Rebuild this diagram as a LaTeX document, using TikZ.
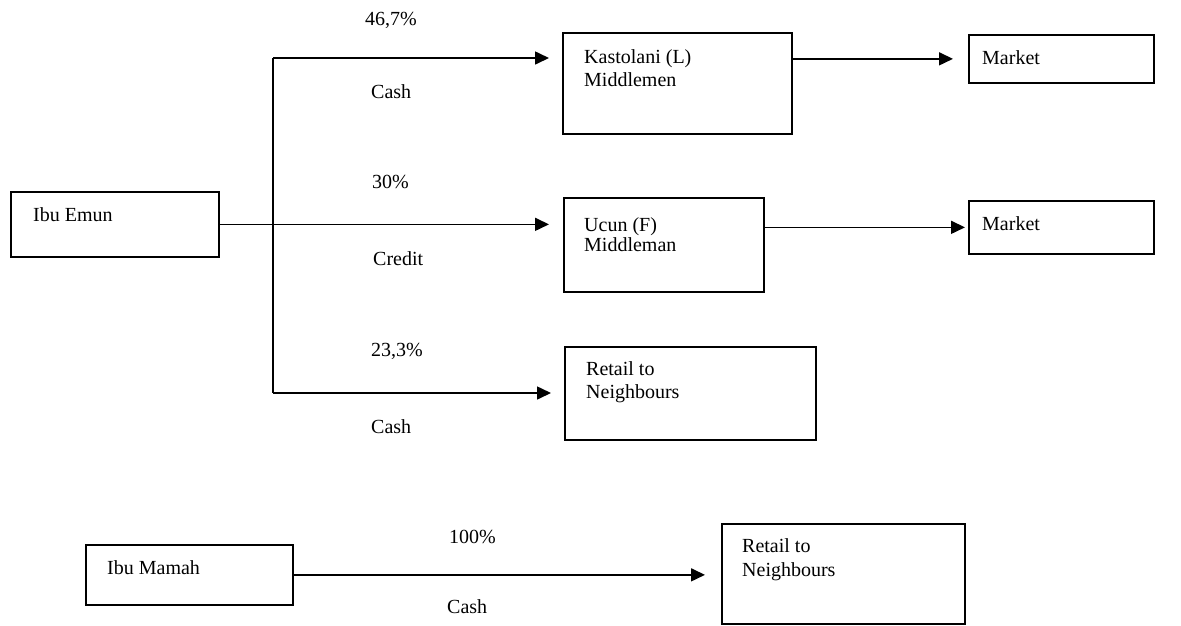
\documentclass[tikz,border=0pt]{standalone}
\usepackage{fontspec}
\setmainfont{Liberation Serif}
\usetikzlibrary{arrows.meta}
\begin{document}
\begin{tikzpicture}[x=1pt,y=-1pt,
  box/.style={draw, line width=1.7pt, inner sep=0pt, anchor=north west},
  txt/.style={anchor=base west, inner sep=0pt, font=\fontsize{20}{23}\selectfont},
  conn/.style={line width=1.6pt},
  arr/.style={conn, -{Triangle[length=14pt,width=13pt]}}
]
\useasboundingbox (0,0) rectangle (1181,625);
% boxes
\node[box, minimum width=208pt, minimum height=65pt] (emun) at (10,191) {};
\node[box, minimum width=229pt, minimum height=101pt] (kast) at (562,32) {};
\node[box, minimum width=185pt, minimum height=48pt] (mkt1) at (968,34) {};
\node[box, minimum width=200pt, minimum height=94pt] (ucun) at (563,197) {};
\node[box, minimum width=185pt, minimum height=53pt] (mkt2) at (968,200) {};
\node[box, minimum width=251pt, minimum height=93pt] (ret1) at (564,346) {};
\node[box, minimum width=207pt, minimum height=60pt] (mamah) at (85,544) {};
\node[box, minimum width=243pt, minimum height=100pt] (ret2) at (721,523) {};
% box texts
\node[txt] (temun) at (33,221) {Ibu Emun};
\node[txt] (tkast1) at (584,63) {Kastolani (L)};
\node[txt] (tkast2) at (584,86) {Middlemen};
\node[txt] (tmkt1) at (982,64) {Market};
\node[txt] (tucun1) at (584,231) {Ucun (F)};
\node[txt] (tucun2) at (584,251) {Middleman};
\node[txt] (tmkt2) at (982,230) {Market};
\node[txt] (tret11) at (586,375) {Retail to};
\node[txt] (tret12) at (586,398) {Neighbours};
\node[txt] (tmamah) at (107,574) {Ibu Mamah};
\node[txt] (tret21) at (742,552) {Retail to};
\node[txt] (tret22) at (742,576) {Neighbours};
% connectors
\coordinate (top) at (273,58);
\coordinate (bot) at (273,393);
\draw[conn] (top) -- (bot);
\draw[arr] (emun.east) -- ([xshift=-14pt]ucun.west |- emun.east);
\draw[arr] (top) -- ([xshift=-13pt]kast.west |- top);
\draw[arr] (bot) -- ([xshift=-13pt]ret1.west |- bot);
\draw[arr] (kast.east |- mkt1.west) -- ([xshift=-15pt]mkt1.west);
\draw[arr] (ucun.east |- mkt2.west) -- ([xshift=-3pt]mkt2.west);
\draw[arr] (mamah.east) -- ([xshift=-16pt]ret2.west |- mamah.east);
% labels
\node[txt] (l1) at (365,25) {46,7\%};
\node[txt] (l2) at (371,98) {Cash};
\node[txt] (l3) at (372,188) {30\%};
\node[txt] (l4) at (373,265) {Credit};
\node[txt] (l5) at (371,356) {23,3\%};
\node[txt] (l6) at (371,433) {Cash};
\node[txt] (l7) at (449,543) {100\%};
\node[txt] (l8) at (447,613) {Cash};
\end{tikzpicture}
\end{document}
